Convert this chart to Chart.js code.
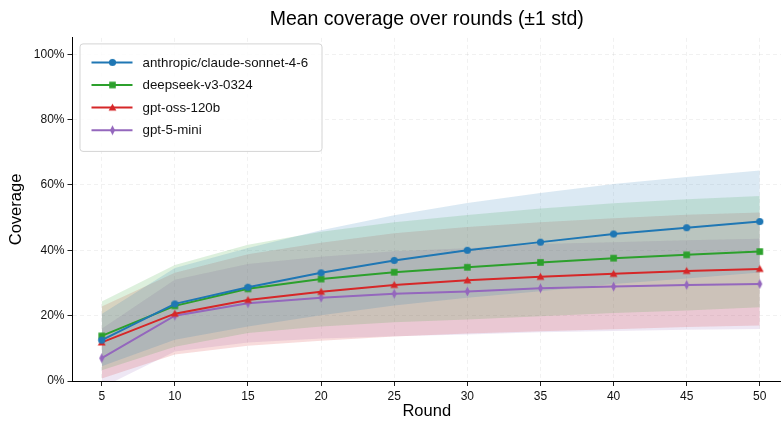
<!DOCTYPE html>
<html>
<head>
<meta charset="utf-8">
<title>Mean coverage over rounds</title>
<script src="https://cdn.jsdelivr.net/npm/chart.js@4.4.0/dist/chart.umd.min.js"></script>
<style>
    html, body { margin: 0; padding: 0; background: #ffffff; }
    #wrap { width: 781px; height: 421px; }
</style>
</head>
<body>
<div id="wrap"><canvas id="coverageChart" width="781" height="421"></canvas></div>
<script>
// Data (percent)
const rounds = [5, 10, 15, 20, 25, 30, 35, 40, 45, 50];
const modelNames = ['anthropic/claude-sonnet-4-6', 'deepseek-v3-0324', 'gpt-oss-120b', 'gpt-5-mini'];

const claudeMean = [12.5, 23.6, 28.7, 33.1, 36.9, 40.0, 42.5, 45.0, 46.9, 48.8];
const claudeStd  = [8.0, 11.0, 12.0, 13.0, 13.8, 14.5, 15.0, 15.3, 15.5, 15.6];
const deepseekMean = [13.8, 23.0, 28.2, 31.2, 33.3, 34.8, 36.3, 37.6, 38.6, 39.6];
const deepseekStd  = [10.5, 12.5, 13.5, 14.5, 15.3, 16.0, 16.5, 16.8, 17.0, 17.0];
const ossMean = [11.8, 20.6, 24.8, 27.3, 29.4, 30.8, 31.9, 32.8, 33.7, 34.3];
const ossStd  = [11.0, 12.5, 14.0, 15.0, 15.8, 16.3, 16.7, 17.0, 17.2, 17.3];
const miniMean = [7.0, 20.0, 23.8, 25.5, 26.7, 27.4, 28.4, 28.9, 29.4, 29.7];
const miniStd  = [9.0, 11.0, 12.0, 12.5, 13.0, 13.2, 13.5, 13.6, 13.7, 13.8];

const xTicks = [5, 10, 15, 20, 25, 30, 35, 40, 45, 50];
const yTicks = [0, 20, 40, 60, 80, 100];

const FONT = "'Liberation Sans', Arial, Helvetica, sans-serif";

// tab10 colours
const colors = ['#1f77b4', '#2ca02c', '#d62728', '#9467bd'];
const bandAlpha = 0.16;

function hexToRgba(hex, a) {
    const n = parseInt(hex.slice(1), 16);
    return `rgba(${(n >> 16) & 255}, ${(n >> 8) & 255}, ${n & 255}, ${a})`;
}

// small canvases used as marker images (matplotlib o, s, ^, d)
function makeMarker(shape, color) {
    const c = document.createElement('canvas');
    const w = shape === 'thinDiamond' ? 7 : 9;
    const h = shape === 'thinDiamond' ? 11 : 9;
    c.width = w; c.height = h;
    const g = c.getContext('2d');
    g.fillStyle = color;
    g.beginPath();
    if (shape === 'circle') {
        g.arc(w / 2, h / 2, 3.6, 0, Math.PI * 2);
    } else if (shape === 'square') {
        g.rect(1.2, 1.2, w - 2.4, h - 2.4);
    } else if (shape === 'triangle') {
        g.moveTo(w / 2, 0.6);
        g.lineTo(w - 0.6, h - 1.4);
        g.lineTo(0.6, h - 1.4);
        g.closePath();
    } else {
        g.moveTo(w / 2, 0.5);
        g.lineTo(w - 1, h / 2);
        g.lineTo(w / 2, h - 0.5);
        g.lineTo(1, h / 2);
        g.closePath();
    }
    g.fill();
    return c;
}

const markerShapes = ['circle', 'square', 'triangle', 'thinDiamond'];
const markers = markerShapes.map((s, i) => makeMarker(s, colors[i]));

const means = [claudeMean, deepseekMean, ossMean, miniMean];
const stds = [claudeStd, deepseekStd, ossStd, miniStd];

const datasets = [];

// mean lines (drawn on top)
means.forEach((m, i) => {
    datasets.push({
        label: modelNames[i],
        data: rounds.map((r, k) => ({ x: r, y: m[k] })),
        borderColor: colors[i],
        backgroundColor: colors[i],
        borderWidth: 2,
        pointStyle: markers[i],
        pointRadius: 4,
        fill: false,
        tension: 0,
        order: 0
    });
});

// ±1 std bands: lower edge, then upper edge filled down to it
means.forEach((m, i) => {
    datasets.push({
        label: modelNames[i] + ' lower',
        data: rounds.map((r, k) => ({ x: r, y: m[k] - stds[i][k] })),
        borderWidth: 0,
        borderColor: 'rgba(0,0,0,0)',
        pointRadius: 0,
        fill: false,
        order: 10
    });
    datasets.push({
        label: modelNames[i] + ' upper',
        data: rounds.map((r, k) => ({ x: r, y: m[k] + stds[i][k] })),
        borderWidth: 0,
        borderColor: 'rgba(0,0,0,0)',
        backgroundColor: hexToRgba(colors[i], bandAlpha),
        pointRadius: 0,
        fill: '-1',
        order: 10
    });
});

// legend box drawn inside the plot, top left
const boxLegend = {
    id: 'boxLegend',
    afterDraw(chart) {
        const ctx = chart.ctx;
        const area = chart.chartArea;
        const left = area.left + 7;
        const top = area.top + 5.5;
        const w = 242, h = 107.5;
        ctx.save();
        ctx.beginPath();
        ctx.roundRect(left + 0.5, top + 0.5, w, h, 3);
        ctx.fillStyle = 'rgba(255,255,255,0.85)';
        ctx.fill();
        ctx.strokeStyle = '#d4d4d4';
        ctx.lineWidth = 1;
        ctx.stroke();

        ctx.font = '13.3px ' + FONT;
        ctx.textBaseline = 'middle';
        modelNames.forEach((name, i) => {
            const y = top + 19 + i * 22.6;
            ctx.strokeStyle = colors[i];
            ctx.lineWidth = 2;
            ctx.beginPath();
            ctx.moveTo(left + 12, y);
            ctx.lineTo(left + 53, y);
            ctx.stroke();
            const mk = markers[i];
            ctx.drawImage(mk, left + 33 - mk.width / 2, y - mk.height / 2);
            ctx.fillStyle = '#111';
            ctx.fillText(name, left + 63, y + 0.5);
        });
        ctx.restore();
    }
};

const ctx = document.getElementById('coverageChart').getContext('2d');
new Chart(ctx, {
    type: 'line',
    data: { datasets: datasets },
    options: {
        responsive: false,
        animation: false,
        events: [],
        layout: { autoPadding: false, padding: 0 },
        plugins: {
            legend: { display: false },
            tooltip: { enabled: false },
            title: {
                display: true,
                fullSize: false,
                text: 'Mean coverage over rounds (±1 std)',
                color: '#000',
                font: { family: FONT, size: 19.5, weight: 'normal' },
                padding: { top: 7.5, bottom: 7 }
            }
        },
        scales: {
            x: {
                type: 'linear',
                min: 3,
                max: 51.45,
                afterBuildTicks: (scale) => { scale.ticks = xTicks.map(v => ({ value: v })); },
                afterFit: (scale) => { scale.height = 40; },
                title: {
                    display: true,
                    text: 'Round',
                    color: '#000',
                    font: { family: FONT, size: 16.5 },
                    padding: { top: 0, bottom: 0 }
                },
                ticks: {
                    color: '#111',
                    font: { family: FONT, size: 12 },
                    padding: 3,
                    maxRotation: 0
                },
                grid: {
                    color: 'rgba(0,0,0,0.055)',
                    tickColor: '#222',
                    tickLength: 5,
                    tickBorderDash: []
                },
                border: { color: '#000', width: 1, dash: [4, 3] }
            },
            y: {
                min: 0,
                max: 105,
                afterBuildTicks: (scale) => { scale.ticks = yTicks.map(v => ({ value: v })); },
                afterFit: (scale) => { scale.width = 72.5; },
                title: {
                    display: true,
                    text: 'Coverage',
                    color: '#000',
                    font: { family: FONT, size: 16.5 },
                    padding: { top: 7, bottom: 0 }
                },
                ticks: {
                    color: '#111',
                    font: { family: FONT, size: 12 },
                    padding: 3,
                    callback: (v) => v + '%'
                },
                grid: {
                    color: 'rgba(0,0,0,0.055)',
                    tickColor: '#222',
                    tickLength: 5,
                    tickBorderDash: []
                },
                border: { color: '#000', width: 1, dash: [4, 3] }
            }
        }
    },
    plugins: [boxLegend]
});
</script>
</body>
</html>
